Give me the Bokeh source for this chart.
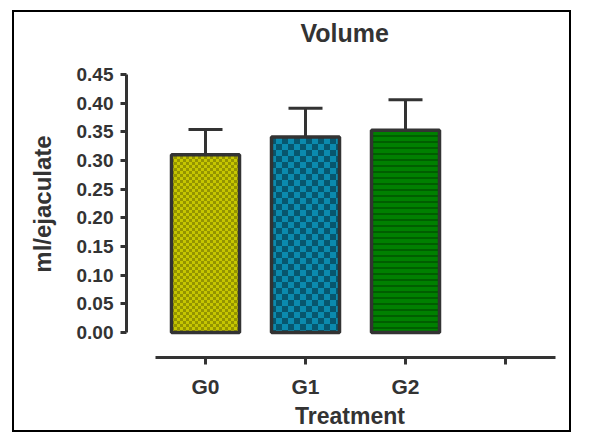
import base64
import struct
import zlib

from bokeh.plotting import figure
from bokeh.models import (ColumnDataSource, Range1d, FixedTicker, PrintfTickFormatter,
                          Whisker, TeeHead, ImageURLTexture)
from bokeh.embed import file_html
from bokeh.resources import INLINE

# ---- data ----
categories = ["G0", "G1", "G2"]
x_tick_labels = ["G0", "G1", "G2", ""]
means = [0.310, 0.341, 0.353]
errors = [0.044, 0.050, 0.053]
y_ticks = [0.00, 0.05, 0.10, 0.15, 0.20, 0.25, 0.30, 0.35, 0.40, 0.45]

# ---- styles ----
fill_colors = ["#c6c600", "#0b8aae", "#008000"]
hatch_colors = ["#949400", "#07566e", "#005a00"]
hatch_patterns = ["checker_g0", "checker_g1", "horizontal_line"]
checker_cells = {"checker_g0": 3, "checker_g1": 6}
hatch_scales = [6, 12, 6]
hatch_weights = [1, 1, 1.8]

FONT = "Liberation Sans"
DARK = "#333333"


def hex_rgb(h):
    h = h.lstrip("#")
    return bytes(int(h[i:i + 2], 16) for i in (0, 2, 4))


def checker_png(light, dark, cell):
    n = 2 * cell
    lo, da = hex_rgb(light), hex_rgb(dark)
    raw = b""
    for yy in range(n):
        row = b"\x00"
        for xx in range(n):
            row += da if ((xx // cell) + (yy // cell)) % 2 == 0 else lo
        raw += row

    def chunk(tag, data):
        return (struct.pack(">I", len(data)) + tag + data +
                struct.pack(">I", zlib.crc32(tag + data) & 0xffffffff))

    png = (b"\x89PNG\r\n\x1a\n" +
           chunk(b"IHDR", struct.pack(">IIBBBBB", n, n, 8, 2, 0, 0, 0)) +
           chunk(b"IDAT", zlib.compress(raw)) + chunk(b"IEND", b""))
    return "data:image/png;base64," + base64.b64encode(png).decode()


hatch_extra = {}
for i, name in enumerate(hatch_patterns):
    if name in checker_cells:
        hatch_extra[name] = ImageURLTexture(
            url=checker_png(fill_colors[i], hatch_colors[i], checker_cells[name]))

xs = list(range(len(categories)))
upper = [m + e for m, e in zip(means, errors)]

src = ColumnDataSource(dict(x=xs, top=means, upper=upper, fill=fill_colors,
                            hc=hatch_colors, hp=hatch_patterns, hs=hatch_scales,
                            hw=hatch_weights))

p = figure(width=573, height=432, output_backend="svg", toolbar_location=None,
           x_range=Range1d(-0.79, 3.68), y_range=Range1d(-0.0436, 0.4919),
           min_border_left=126, min_border_right=0, min_border_top=50,
           min_border_bottom=75, title="Volume")
line = "linear-gradient(#000,#000)"
p.styles = {"background": ", ".join([
    f"{line} left 12px top 10px / 2px calc(100% - 10px) no-repeat",
    f"{line} left 12px top 10px / calc(100% - 14px) 2px no-repeat",
    f"{line} right 2px top 10px / 2px calc(100% - 10px) no-repeat",
    f"{line} left 12px bottom 0px / calc(100% - 14px) 2px no-repeat",
])}
p.border_fill_color = None
p.background_fill_color = None
p.outline_line_color = None
p.xgrid.visible = False
p.ygrid.visible = False

p.title.align = "left"
p.title.offset = 174
p.title.text_font = FONT
p.title.text_font_size = "25px"
p.title.text_font_style = "bold"
p.title.text_color = DARK
p.title.standoff = 8

p.vbar(x="x", top="top", bottom=0, width=0.68, source=src,
       fill_color="fill", line_color=DARK, line_width=3.5,
       hatch_pattern="hp", hatch_color="hc", hatch_scale="hs", hatch_weight="hw",
       hatch_extra=hatch_extra)

w = Whisker(base="x", lower="top", upper="upper", source=src, dimension="height",
            line_color=DARK, line_width=3,
            upper_head=TeeHead(size=34, line_color=DARK, line_width=3),
            lower_head=None)
p.add_layout(w)

# y axis
ya = p.yaxis[0]
ya.ticker = FixedTicker(ticks=y_ticks)
ya.formatter = PrintfTickFormatter(format="%.2f")
ya.bounds = (y_ticks[0], y_ticks[-1])
ya.axis_line_width = 3
ya.axis_line_color = DARK
ya.major_tick_line_width = 3
ya.major_tick_line_color = DARK
ya.major_tick_out = 6
ya.major_tick_in = 0
ya.minor_tick_line_color = None
ya.major_label_standoff = 7
ya.major_label_text_font = FONT
ya.major_label_text_font_style = "bold"
ya.major_label_text_font_size = "19px"
ya.major_label_text_color = DARK
ya.axis_label = "ml/ejaculate"
ya.axis_label_text_font = FONT
ya.axis_label_text_font_style = "bold"
ya.axis_label_text_font_size = "24px"
ya.axis_label_text_color = DARK
ya.axis_label_standoff = 18

# x axis
xa = p.xaxis[0]
xa.ticker = FixedTicker(ticks=list(range(len(x_tick_labels))))
xa.major_label_overrides = {i: t for i, t in enumerate(x_tick_labels)}
xa.bounds = (-0.5, len(x_tick_labels) - 0.5)
xa.axis_line_width = 3
xa.axis_line_color = DARK
xa.major_tick_line_width = 3
xa.major_tick_line_color = DARK
xa.major_tick_out = 7
xa.major_tick_in = 0
xa.minor_tick_line_color = None
xa.major_label_standoff = 10
xa.major_label_text_font = FONT
xa.major_label_text_font_style = "bold"
xa.major_label_text_font_size = "21px"
xa.major_label_text_color = DARK
xa.axis_label = "Treatment"
xa.axis_label_text_font = FONT
xa.axis_label_text_font_style = "bold"
xa.axis_label_text_font_size = "23px"
xa.axis_label_text_color = DARK
xa.axis_label_standoff = 2

open("out.html", "w").write(file_html(p, INLINE))
